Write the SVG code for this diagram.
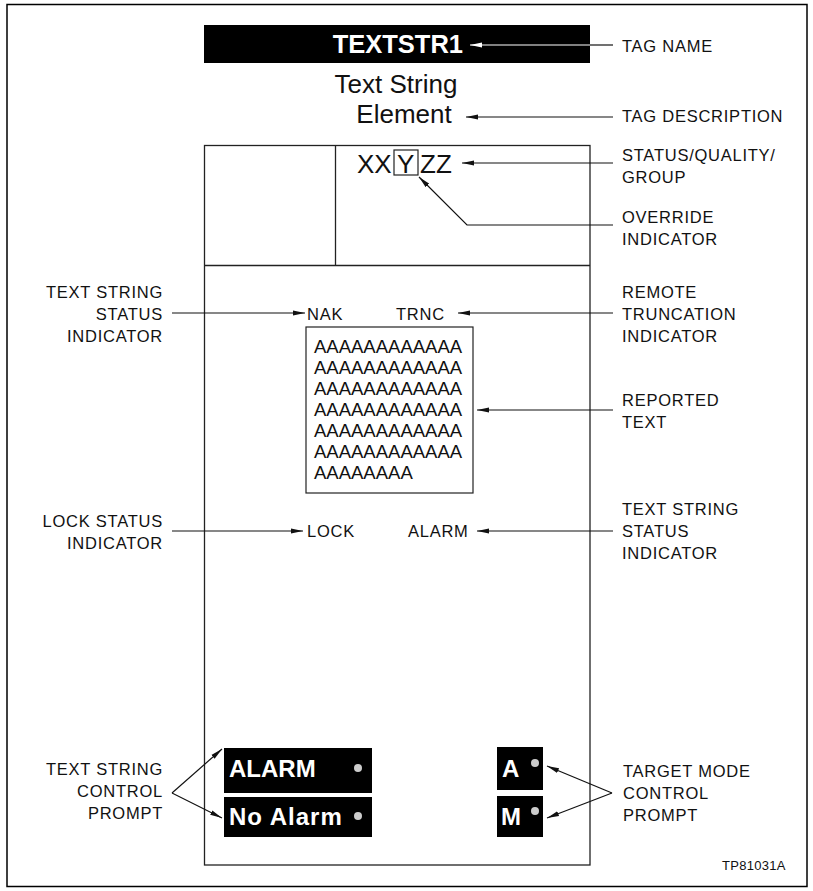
<svg xmlns="http://www.w3.org/2000/svg" width="813" height="891" viewBox="0 0 813 891">
<style>
  .lbl { font-family: "Liberation Sans", Arial, sans-serif; font-size: 16.5px; letter-spacing: 0.75px; fill: #111; }
  .r { text-anchor: end; }
  .panel { fill: none; stroke: #222; stroke-width: 1.3; }
  .conn { fill: none; stroke: #111; stroke-width: 1.2; marker-end: url(#ah); }
  .connw { fill: none; stroke: #fff; stroke-width: 1.2; marker-end: url(#ahw); }
  .btn { fill: #000; }
  .btxt { font-family: "Liberation Sans", Arial, sans-serif; font-weight: bold; fill: #fff; }
  .dot { fill: #ccc; }
  .big { font-family: "Liberation Sans", Arial, sans-serif; fill: #111; }
</style>
<defs>
  <marker id="ah" markerWidth="12" markerHeight="6" refX="12" refY="3" orient="auto" markerUnits="userSpaceOnUse">
    <path d="M0,0.5 L12,3 L0,5.5 Z" fill="#111"/>
  </marker>
  <marker id="ahw" markerWidth="12" markerHeight="6" refX="12" refY="3" orient="auto" markerUnits="userSpaceOnUse">
    <path d="M0,0.5 L12,3 L0,5.5 Z" fill="#fff"/>
  </marker>
</defs>
<rect x="0" y="0" width="813" height="891" fill="#fff"/>
<rect x="7" y="4.5" width="800" height="882" fill="none" stroke="#000" stroke-width="1.5"/>

<g id="panel">
  <rect class="panel" x="204.5" y="145.5" width="385.5" height="719.5"/>
  <line class="panel" x1="204.5" y1="265.5" x2="590" y2="265.5"/>
  <line class="panel" x1="335.5" y1="145.5" x2="335.5" y2="265.5"/>
</g>

<g id="tagname">
  <rect class="btn" x="204" y="25" width="386" height="38"/>
  <text class="btxt" x="463" y="53" font-size="25.5" text-anchor="end">TEXTSTR1</text>
</g>

<g id="tagdesc">
  <text class="big" x="396" y="93" font-size="26" text-anchor="middle">Text String</text>
  <text class="big" x="404" y="123" font-size="26" text-anchor="middle">Element</text>
</g>

<g id="status">
  <text class="big" x="357" y="173" font-size="26">XX</text>
  <rect x="394" y="150" width="24" height="25" fill="none" stroke="#222" stroke-width="1.2"/>
  <text class="big" x="397" y="173" font-size="26">Y</text>
  <text class="big" x="420" y="173" font-size="26">ZZ</text>
</g>

<g id="nak"><text class="lbl" x="307" y="320">NAK</text></g>
<g id="trnc"><text class="lbl" x="396" y="320">TRNC</text></g>

<g id="reported">
  <rect x="306" y="327" width="167" height="166" fill="none" stroke="#222" stroke-width="1.2"/>
  <text class="big" font-size="18.5">
    <tspan x="314" y="353">AAAAAAAAAAAA</tspan>
    <tspan x="314" y="374">AAAAAAAAAAAA</tspan>
    <tspan x="314" y="395">AAAAAAAAAAAA</tspan>
    <tspan x="314" y="416">AAAAAAAAAAAA</tspan>
    <tspan x="314" y="437">AAAAAAAAAAAA</tspan>
    <tspan x="314" y="458">AAAAAAAAAAAA</tspan>
    <tspan x="314" y="479">AAAAAAAA</tspan>
  </text>
</g>

<g id="lock"><text class="lbl" x="307" y="537">LOCK</text></g>
<g id="alarm"><text class="lbl" x="408" y="537">ALARM</text></g>

<g id="btn-alarm">
  <rect class="btn" x="224" y="748" width="148" height="45"/>
  <text class="btxt" x="229" y="777" font-size="24">ALARM</text>
  <circle class="dot" cx="358" cy="768" r="4"/>
</g>
<g id="btn-noalarm">
  <rect class="btn" x="224" y="797" width="148" height="40"/>
  <text class="btxt" x="229" y="825" font-size="24" letter-spacing="1">No Alarm</text>
  <circle class="dot" cx="358" cy="816" r="4"/>
</g>
<g id="btn-a">
  <rect class="btn" x="497" y="747" width="46" height="43"/>
  <text class="btxt" x="502" y="777" font-size="24">A</text>
  <circle class="dot" cx="535" cy="763" r="4"/>
</g>
<g id="btn-m">
  <rect class="btn" x="497" y="796" width="46" height="41"/>
  <text class="btxt" x="501" y="825" font-size="24">M</text>
  <circle class="dot" cx="535" cy="811" r="4"/>
</g>

<g id="labels">
  <text class="lbl" x="622" y="52">TAG NAME</text>
  <text class="lbl" x="622" y="122">TAG DESCRIPTION</text>
  <text class="lbl" x="622" y="161">STATUS/QUALITY/<tspan x="622" y="183">GROUP</tspan></text>
  <text class="lbl" x="622" y="223">OVERRIDE<tspan x="622" y="245">INDICATOR</tspan></text>
  <text class="lbl" x="622" y="298">REMOTE<tspan x="622" y="320">TRUNCATION</tspan><tspan x="622" y="342">INDICATOR</tspan></text>
  <text class="lbl" x="622" y="406">REPORTED<tspan x="622" y="428">TEXT</tspan></text>
  <text class="lbl" x="622" y="515">TEXT STRING<tspan x="622" y="537">STATUS</tspan><tspan x="622" y="559">INDICATOR</tspan></text>
  <text class="lbl" x="623" y="777">TARGET MODE<tspan x="623" y="799">CONTROL</tspan><tspan x="623" y="821">PROMPT</tspan></text>
  <text class="lbl r" x="163" y="298">TEXT STRING<tspan x="163" y="320">STATUS</tspan><tspan x="163" y="342">INDICATOR</tspan></text>
  <text class="lbl r" x="163" y="527">LOCK STATUS<tspan x="163" y="549">INDICATOR</tspan></text>
  <text class="lbl r" x="163" y="775">TEXT STRING<tspan x="163" y="797">CONTROL</tspan><tspan x="163" y="819">PROMPT</tspan></text>
  <text x="722" y="870" style="font-family:'Liberation Sans',Arial,sans-serif;font-size:13px;letter-spacing:0.3px;fill:#111">TP81031A</text>
</g>

<g id="connectors">
  <line x1="613" y1="45" x2="590" y2="45" stroke="#111" stroke-width="1.2"/>
  <line class="connw" x1="590" y1="45" x2="470" y2="45"/>
  <line class="conn" x1="613" y1="117" x2="466" y2="117"/>
  <line class="conn" x1="613" y1="163" x2="462" y2="163"/>
  <polyline class="conn" points="613,225 467,225 419,177"/>
  <line class="conn" x1="613" y1="313" x2="458" y2="313"/>
  <line class="conn" x1="613" y1="410" x2="477" y2="410"/>
  <line class="conn" x1="613" y1="531" x2="477" y2="531"/>
  <line class="conn" x1="172" y1="313" x2="305" y2="313"/>
  <line class="conn" x1="172" y1="531" x2="303" y2="531"/>
  <line class="conn" x1="172" y1="793" x2="222" y2="749"/>
  <line class="conn" x1="172" y1="793" x2="222" y2="818"/>
  <line class="conn" x1="612" y1="793" x2="547" y2="766"/>
  <line class="conn" x1="612" y1="793" x2="547" y2="818"/>
</g>
</svg>
